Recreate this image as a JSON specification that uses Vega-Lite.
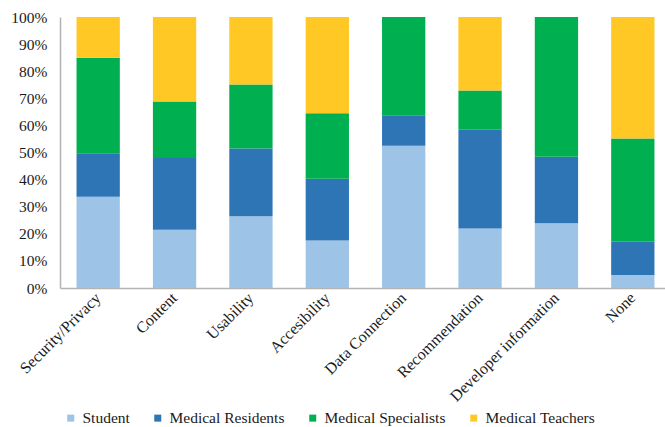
{
  "$schema": "https://vega.github.io/schema/vega-lite/v6.json",
  "width": 605,
  "height": 271,
  "autosize": {"type": "none"},
  "padding": {"left": 60, "top": 17, "right": 0, "bottom": 139},
  "background": "white",
  "config": {
    "view": {"stroke": null},
    "font": "Liberation Serif",
    "axis": {"labelFont": "Liberation Serif", "labelColor": "#1a1a1a", "domainColor": "#b3b3b3", "grid": false, "ticks": false, "title": null},
    "legend": {"labelFont": "Liberation Serif"}
  },
  "data": {
    "values": [
      {"category": "Security/Privacy", "group": "Student", "rank": 1, "pct": 33.7},
      {"category": "Security/Privacy", "group": "Medical Residents", "rank": 2, "pct": 16.0},
      {"category": "Security/Privacy", "group": "Medical Specialists", "rank": 3, "pct": 35.3},
      {"category": "Security/Privacy", "group": "Medical Teachers", "rank": 4, "pct": 15.0},
      {"category": "Content", "group": "Student", "rank": 1, "pct": 21.5},
      {"category": "Content", "group": "Medical Residents", "rank": 2, "pct": 26.5},
      {"category": "Content", "group": "Medical Specialists", "rank": 3, "pct": 20.8},
      {"category": "Content", "group": "Medical Teachers", "rank": 4, "pct": 31.2},
      {"category": "Usability", "group": "Student", "rank": 1, "pct": 26.5},
      {"category": "Usability", "group": "Medical Residents", "rank": 2, "pct": 25.0},
      {"category": "Usability", "group": "Medical Specialists", "rank": 3, "pct": 23.6},
      {"category": "Usability", "group": "Medical Teachers", "rank": 4, "pct": 24.9},
      {"category": "Accesibility", "group": "Student", "rank": 1, "pct": 17.5},
      {"category": "Accesibility", "group": "Medical Residents", "rank": 2, "pct": 22.8},
      {"category": "Accesibility", "group": "Medical Specialists", "rank": 3, "pct": 24.2},
      {"category": "Accesibility", "group": "Medical Teachers", "rank": 4, "pct": 35.5},
      {"category": "Data Connection", "group": "Student", "rank": 1, "pct": 52.5},
      {"category": "Data Connection", "group": "Medical Residents", "rank": 2, "pct": 11.2},
      {"category": "Data Connection", "group": "Medical Specialists", "rank": 3, "pct": 36.3},
      {"category": "Data Connection", "group": "Medical Teachers", "rank": 4, "pct": 0},
      {"category": "Recommendation", "group": "Student", "rank": 1, "pct": 22.0},
      {"category": "Recommendation", "group": "Medical Residents", "rank": 2, "pct": 36.4},
      {"category": "Recommendation", "group": "Medical Specialists", "rank": 3, "pct": 14.5},
      {"category": "Recommendation", "group": "Medical Teachers", "rank": 4, "pct": 27.1},
      {"category": "Developer information", "group": "Student", "rank": 1, "pct": 23.9},
      {"category": "Developer information", "group": "Medical Residents", "rank": 2, "pct": 24.5},
      {"category": "Developer information", "group": "Medical Specialists", "rank": 3, "pct": 51.6},
      {"category": "Developer information", "group": "Medical Teachers", "rank": 4, "pct": 0},
      {"category": "None", "group": "Student", "rank": 1, "pct": 4.8},
      {"category": "None", "group": "Medical Residents", "rank": 2, "pct": 12.3},
      {"category": "None", "group": "Medical Specialists", "rank": 3, "pct": 38.1},
      {"category": "None", "group": "Medical Teachers", "rank": 4, "pct": 44.8}
    ]
  },
  "mark": {"type": "bar"},
  "encoding": {
    "x": {
      "field": "category",
      "type": "nominal",
      "sort": null,
      "scale": {"range": [0, 611], "paddingInner": 0.433, "paddingOuter": 0.2165},
      "axis": {"labelAngle": -45, "labelAlign": "right", "labelBaseline": "middle", "labelPadding": 7, "labelFontSize": 16, "domainWidth": 1.5}
    },
    "y": {
      "field": "pct",
      "type": "quantitative",
      "stack": "zero",
      "scale": {"domain": [0, 100], "nice": false},
      "axis": {"values": [0, 10, 20, 30, 40, 50, 60, 70, 80, 90, 100], "labelExpr": "datum.value + '%'", "labelPadding": 13, "labelFontSize": 15.5, "domainWidth": 1.5}
    },
    "color": {
      "field": "group",
      "type": "nominal",
      "scale": {
        "domain": ["Student", "Medical Residents", "Medical Specialists", "Medical Teachers"],
        "range": ["#9dc3e6", "#2e75b6", "#00b050", "#ffc824"]
      },
      "legend": {
        "title": null,
        "orient": "none",
        "legendX": 3,
        "legendY": 393,
        "direction": "horizontal",
        "columns": 4,
        "symbolType": "square",
        "symbolSize": 49,
        "symbolStrokeWidth": 0,
        "labelFont": "Liberation Serif",
        "labelFontSize": 15.5,
        "labelColor": "#1a1a1a",
        "labelOffset": 4,
        "columnPadding": 20
      }
    },
    "order": {"field": "rank", "type": "quantitative", "sort": "ascending"}
  }
}
